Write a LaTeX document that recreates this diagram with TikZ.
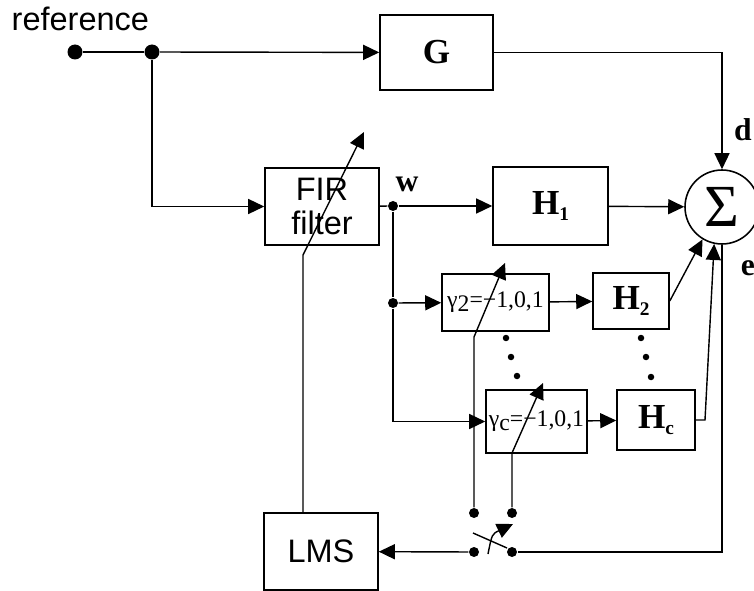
\documentclass[tikz,border=0pt]{standalone}
\usepackage{fontspec}
\setmainfont{Liberation Serif}
\setsansfont{Liberation Sans}
\usetikzlibrary{arrows.meta, positioning, calc}
\newcommand{\Hsub}[1]{H\raisebox{-0.35ex}{\fontsize{11}{12}\selectfont #1}}
\newcommand{\gsub}[1]{γ\raisebox{-0.3ex}{#1}}

\begin{document}
\begin{tikzpicture}[
    x=0.02cm, y=-0.02cm,
    line width=0.8pt,
    blk/.style={rectangle, draw, line width=0.9pt, inner sep=0pt},
    sblk/.style={blk, font=\fontsize{18.5}{19}\sffamily},
    hblk/.style={blk, font=\fontsize{20}{22}\selectfont\bfseries},
    gblk/.style={blk, font=\fontsize{13.5}{15}\selectfont},
    dot/.style={circle, fill, inner sep=0pt, minimum size=0.2cm},
    bigdot/.style={dot, minimum size=0.3cm},
    smalldot/.style={dot, minimum size=0.13cm},
    lbl/.style={font=\fontsize{18}{20}\selectfont\bfseries, inner sep=0pt},
    arr/.style={-{Triangle[length=3.2mm, width=3mm]}},
]
\useasboundingbox (0,0) rectangle (754,591);

% Input
\node[anchor=base west, inner sep=0pt, font=\fontsize{18.5}{20}\sffamily] (reflbl) at (11,31) {reference};
\node[bigdot] (refdot) at (75,52) {};
\node[bigdot] (br) at (152,52) {};

% Blocks
\node[hblk, minimum width=2.26cm, minimum height=1.5cm] (G) at (436.5,52.5) {G};
\node[sblk, align=center, minimum width=2.28cm, minimum height=1.54cm] (fir) at (322,206.5) {FIR\\filter};
\node[hblk, minimum width=2.3cm, minimum height=1.56cm] (H1) at (550.5,206) {\Hsub{1}};
\node[gblk, minimum width=2.14cm, minimum height=1.14cm] (g2) at (495.5,302.5) {\gsub{2}=−1,0,1};
\node[hblk, minimum width=1.52cm, minimum height=1.12cm] (H2) at (631,301) {\Hsub{2}};
\node[gblk, minimum width=2.02cm, minimum height=1.26cm] (gc) at (536.5,421.5) {\gsub{c}=−1,0,1};
\node[hblk, minimum width=1.56cm, minimum height=1.2cm] (Hc) at (656,420) {\Hsub{c}};
\node[sblk, minimum width=2.28cm, minimum height=1.54cm] (LMS) at (321,551.5) {LMS};
\node[circle, draw, line width=0.9pt, minimum size=1.48cm, inner sep=0pt, font=\fontsize{34}{36}\selectfont] (sum) at (722,207) {Σ};

% Signal labels
\node[lbl] (wl) at (407,184) {w};
\node[lbl] (dl) at (743,130) {d};
\node[lbl] (el) at (748,268) {e};

% Branch points and switch contacts
\node[dot] (wdot) at (393,206) {};
\node[dot] (wdot2) at (393,303) {};
\node[dot] (s1) at (474,513) {};
\node[dot] (s2) at (512,513) {};
\node[dot] (s3) at (474,552) {};
\node[dot] (s4) at (512,552) {};

% Vertical ellipses
\node[smalldot] (e1) at (506,338) {};
\node[smalldot] (e2) at (511,357) {};
\node[smalldot] (e3) at (517,376) {};
\node[smalldot] (f1) at (641,338) {};
\node[smalldot] (f2) at (646,357) {};
\node[smalldot] (f3) at (651,377) {};

% Bends of the adjusting arrows
\coordinate (firbend) at (303,255);
\coordinate (firtip) at (364,132);
\coordinate (g2bend) at (474,337);
\coordinate (g2tip) at (505,263);
\coordinate (gcbend) at (512,453);
\coordinate (gctip) at (543,383);
\coordinate (hcbend) at (705,420);
\coordinate (blade1) at (473,533);
\coordinate (blade2) at (507,548);
\coordinate (cv1) at (488,554);
\coordinate (cv0) at (492,534);
\coordinate (cv2) at (513,524);

% Signal paths
\draw (refdot) -- (br);
\draw[arr] (br) -- (G);
\draw[arr] (br) |- (fir);
\draw[arr] (G) -| (sum);
\draw (fir) -- (wdot);
\draw[arr] (wdot) -- (H1);
\draw[arr] (H1) -- (sum);
\draw (wdot) -- (wdot2);
\draw[arr] (wdot2) -- (g2);
\draw[arr] (wdot2) |- (gc);
\draw[arr] (g2) -- (H2);
\draw[arr] (gc) -- (Hc);
\draw[arr] (H2.east) -- (sum.-121);
\draw[arr] (Hc.east) -- (hcbend) -- (sum.-102);

% Error and adaptation
\draw (sum) |- (s4);
\draw[arr] (s3) -- (LMS);
\draw[arr] (LMS.north -| firbend) -- (firbend) -- (firtip);
\draw[arr] (s1) -- (g2bend) -- (g2tip);
\draw[arr] (s2) -- (gcbend) -- (gctip);

% Switch
\draw (blade1) -- (blade2);
\draw[arr] (cv1) .. controls (cv0) .. (cv2);

\end{tikzpicture}
\end{document}
